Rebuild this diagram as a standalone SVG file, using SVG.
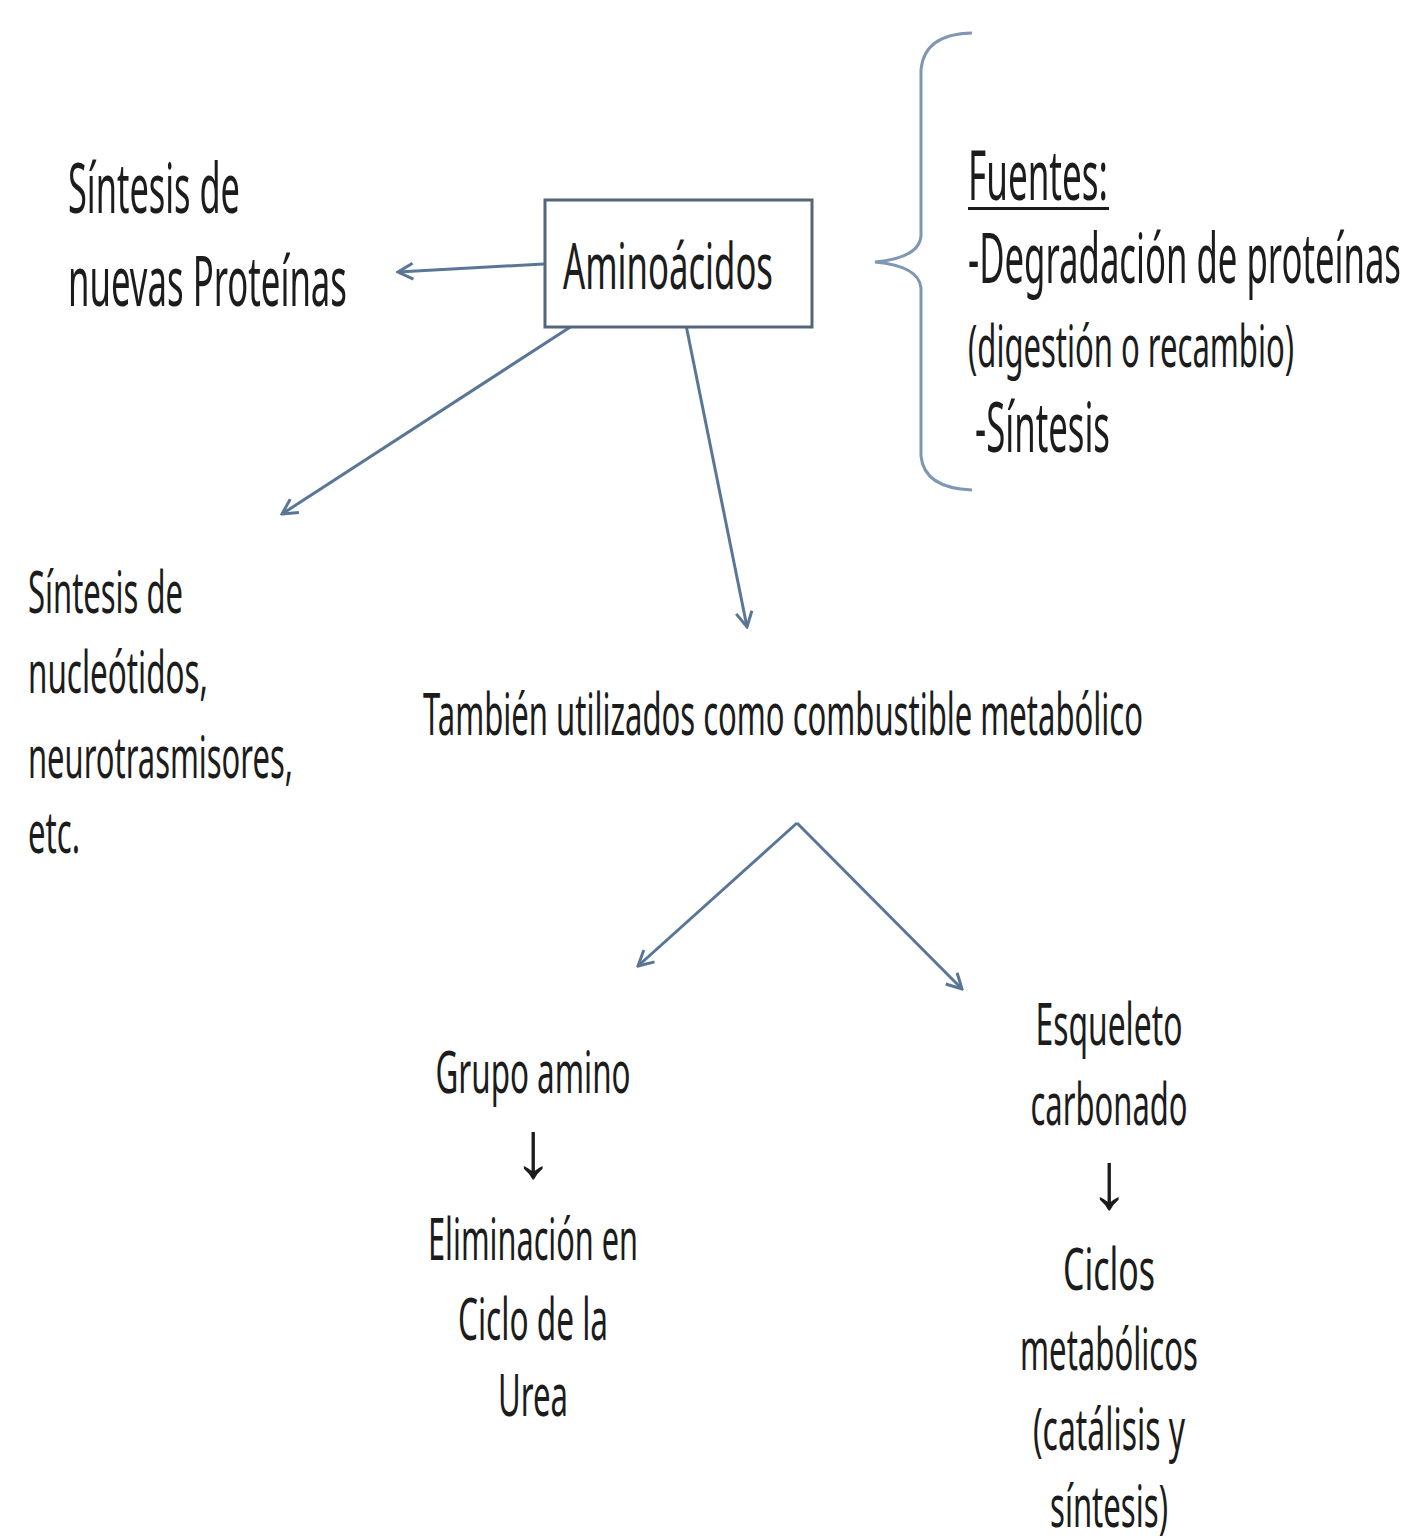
<svg xmlns="http://www.w3.org/2000/svg" width="1417" height="1539" viewBox="0 0 1417 1539">
<style>
text{font-family:"Noto Sans","Open Sans","DejaVu Sans",sans-serif;fill:#1c1c1c;}
.big{font-size:70px;}
.mid{font-size:58px;}
.c{text-anchor:middle;}
.arr{font-family:"Liberation Sans","DejaVu Sans",sans-serif;font-size:80px;}
.con{stroke:#5a7696;stroke-width:3;fill:none;marker-end:url(#open);}
</style>
<defs>
<marker id="open" viewBox="0 0 20 20" refX="18" refY="10" markerWidth="20" markerHeight="20" markerUnits="userSpaceOnUse" orient="auto">
<path d="M3,2 L18,10 L3,18" fill="none" stroke="#5a7696" stroke-width="3"/>
</marker>
</defs>
<rect width="1417" height="1539" fill="#ffffff"/>
<g id="connectors">
<line class="con" x1="544" y1="264" x2="398" y2="272"/>
<line class="con" x1="578" y1="322" x2="282" y2="514"/>
<line class="con" x1="686" y1="325" x2="747" y2="627"/>
<line class="con" x1="797" y1="823" x2="638" y2="966"/>
<line class="con" x1="797" y1="823" x2="962" y2="989"/>
</g>
<g id="aminoacidos">
<rect x="545" y="200" width="267" height="127" fill="#ffffff" stroke="#55657a" stroke-width="3"/>
<text x="563" y="289" font-size="64" textLength="210" lengthAdjust="spacingAndGlyphs">Aminoácidos</text>
</g>
<g id="sintesis-proteinas">
<text class="big" x="68" y="213" textLength="172" lengthAdjust="spacingAndGlyphs">Síntesis de</text>
<text class="big" x="68" y="306" textLength="279" lengthAdjust="spacingAndGlyphs">nuevas Proteínas</text>
</g>
<g id="fuentes">
<path d="M972,33 Q924,34 921,70 L921,236 Q919,258 875,262 Q919,266 921,288 L921,456 Q924,488 972,490" fill="none" stroke="#7f97b2" stroke-width="3"/>
<text class="big" x="968" y="200" textLength="140" lengthAdjust="spacingAndGlyphs">Fuentes:</text>
<rect x="968" y="207" width="141" height="3" fill="#1c1c1c"/>
<text class="big" x="968" y="283" textLength="433" lengthAdjust="spacingAndGlyphs">-Degradación de proteínas</text>
<text class="mid" x="968" y="367" textLength="326" lengthAdjust="spacingAndGlyphs">(digestión o recambio)</text>
<text class="big" x="975" y="452" textLength="135" lengthAdjust="spacingAndGlyphs">-Síntesis</text>
</g>
<g id="sintesis-nucleotidos">
<text class="mid" x="28" y="613" textLength="155" lengthAdjust="spacingAndGlyphs">Síntesis de</text>
<text class="mid" x="28" y="693" textLength="180" lengthAdjust="spacingAndGlyphs">nucleótidos,</text>
<text class="mid" x="28" y="778" textLength="265" lengthAdjust="spacingAndGlyphs">neurotrasmisores,</text>
<text class="mid" x="28" y="853" textLength="52" lengthAdjust="spacingAndGlyphs">etc.</text>
</g>
<g id="combustible">
<text class="mid" x="423" y="735" textLength="720" lengthAdjust="spacingAndGlyphs">También utilizados como combustible metabólico</text>
</g>
<g id="grupo-amino">
<text class="mid c" x="533" y="1093" textLength="195" lengthAdjust="spacingAndGlyphs">Grupo amino</text>
<text class="arr c" x="533" y="1177">↓</text>
<text class="mid c" x="533" y="1260" textLength="210" lengthAdjust="spacingAndGlyphs">Eliminación en</text>
<text class="mid c" x="533" y="1340" textLength="150" lengthAdjust="spacingAndGlyphs">Ciclo de la</text>
<text class="mid c" x="533" y="1416" textLength="70" lengthAdjust="spacingAndGlyphs">Urea</text>
</g>
<g id="esqueleto">
<text class="mid c" x="1109" y="1045" textLength="147" lengthAdjust="spacingAndGlyphs">Esqueleto</text>
<text class="mid c" x="1109" y="1125" textLength="157" lengthAdjust="spacingAndGlyphs">carbonado</text>
<text class="arr c" x="1109" y="1208">↓</text>
<text class="mid c" x="1109" y="1290" textLength="92" lengthAdjust="spacingAndGlyphs">Ciclos</text>
<text class="mid c" x="1109" y="1370" textLength="178" lengthAdjust="spacingAndGlyphs">metabólicos</text>
<text class="mid c" x="1109" y="1450" textLength="152" lengthAdjust="spacingAndGlyphs">(catálisis y</text>
<text class="mid c" x="1109" y="1527" textLength="118" lengthAdjust="spacingAndGlyphs">síntesis)</text>
</g>
</svg>
